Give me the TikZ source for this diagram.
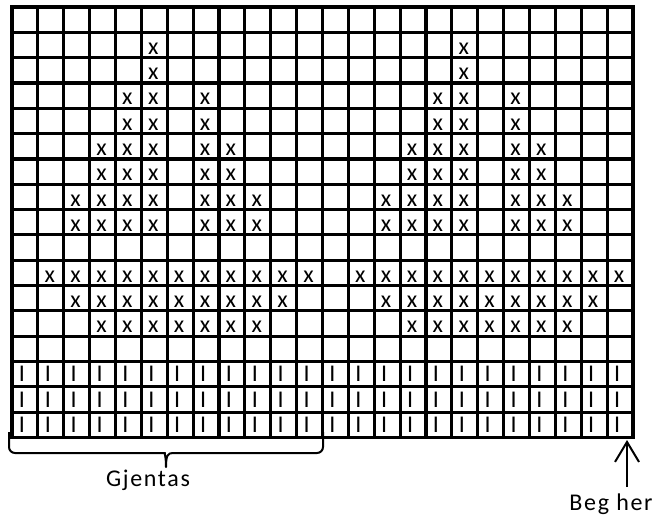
\documentclass[tikz,border=0pt]{standalone}
\usepackage{fontspec}
\setmainfont{Carlito}
\newfontfamily\notefont[LetterSpace=7]{Carlito}
\usepackage{tikz}
\usetikzlibrary{
    arrows.meta,
    decorations.pathreplacing
}

\def\cw{25.875}
\def\rh{25.32}

\begin{document}
\begin{tikzpicture}[
        x=1pt, y=-1pt,
        chart/.style={
            line width=3.2pt,
            line cap=rect
        },
        stitch/.style={
            inner sep=0pt,
            anchor=base,
            font=\fontsize{24}{24}\selectfont
        },
        note/.style={
            inner sep=0pt,
            anchor=base,
            font=\notefont\fontsize{24}{24}\selectfont
        },
        brace/.style={
            line width=2pt,
            line join=round
        },
        line/.style={
            -{Straight Barb[length=20pt, width=24pt]},
            line width=2pt
        }
    ]

    \useasboundingbox (0,0) rectangle (670,515);

    \coordinate (nw) at (12,7);
    \coordinate (se) at (633,437.5);

    % grid
    \foreach \col in {1,...,23}
        \draw[chart] (12+\col*\cw,7) -- (12+\col*\cw,437.5);
    \foreach \row in {1,...,16}
        \draw[chart] (12,7+\row*\rh) -- (633,7+\row*\rh);
    \draw[chart, line join=miter] (nw) rectangle (se);

    % x stitches, the same motif twice
    \foreach \row/\cols in {
            1/{5}, 2/{5},
            3/{4,5,7}, 4/{4,5,7},
            5/{3,4,5,7,8}, 6/{3,4,5,7,8},
            7/{2,3,4,5,7,8,9}, 8/{2,3,4,5,7,8,9},
            10/{1,...,11}, 11/{2,...,10}, 12/{3,...,9}}
        \foreach \col in \cols
            \foreach \rep in {0,12} {
                \pgfmathtruncatemacro\k{\col+\rep}
                \node[stitch] (x\row-\k)
                    at (12+\k*\cw+\cw/2-1,7+\row*\rh+\rh-3.5) {x};
            }

    % bars in the last rows
    \foreach \row in {14,15,16}
        \foreach \k in {0,...,23}
            \node[stitch] (i\row-\k)
                at (12+\k*\cw+\cw/2-3,7+\row*\rh+\rh-5) {I};

    % brace under the repeat
    \coordinate (repl) at (9,432);
    \coordinate (repr) at (323,432);
    \coordinate (tip) at (166,467);
    \draw[brace]
        (repl) [rounded corners=6pt] |- (159,453)
        [sharp corners] .. controls (164,453) and (166,455) .. (tip)
        .. controls (166,455) and (168,453) .. (173,453)
        [rounded corners=6pt] -| (repr);
    \node[note] (repeat) at (148,486) {Gjentas};

    \coordinate (start) at (627,440);
    \node[note] (begin) at (611,510) {Beg her};
    \draw[line, shorten <=6pt] (begin.north -| start) -- (start);

\end{tikzpicture}
\end{document}
